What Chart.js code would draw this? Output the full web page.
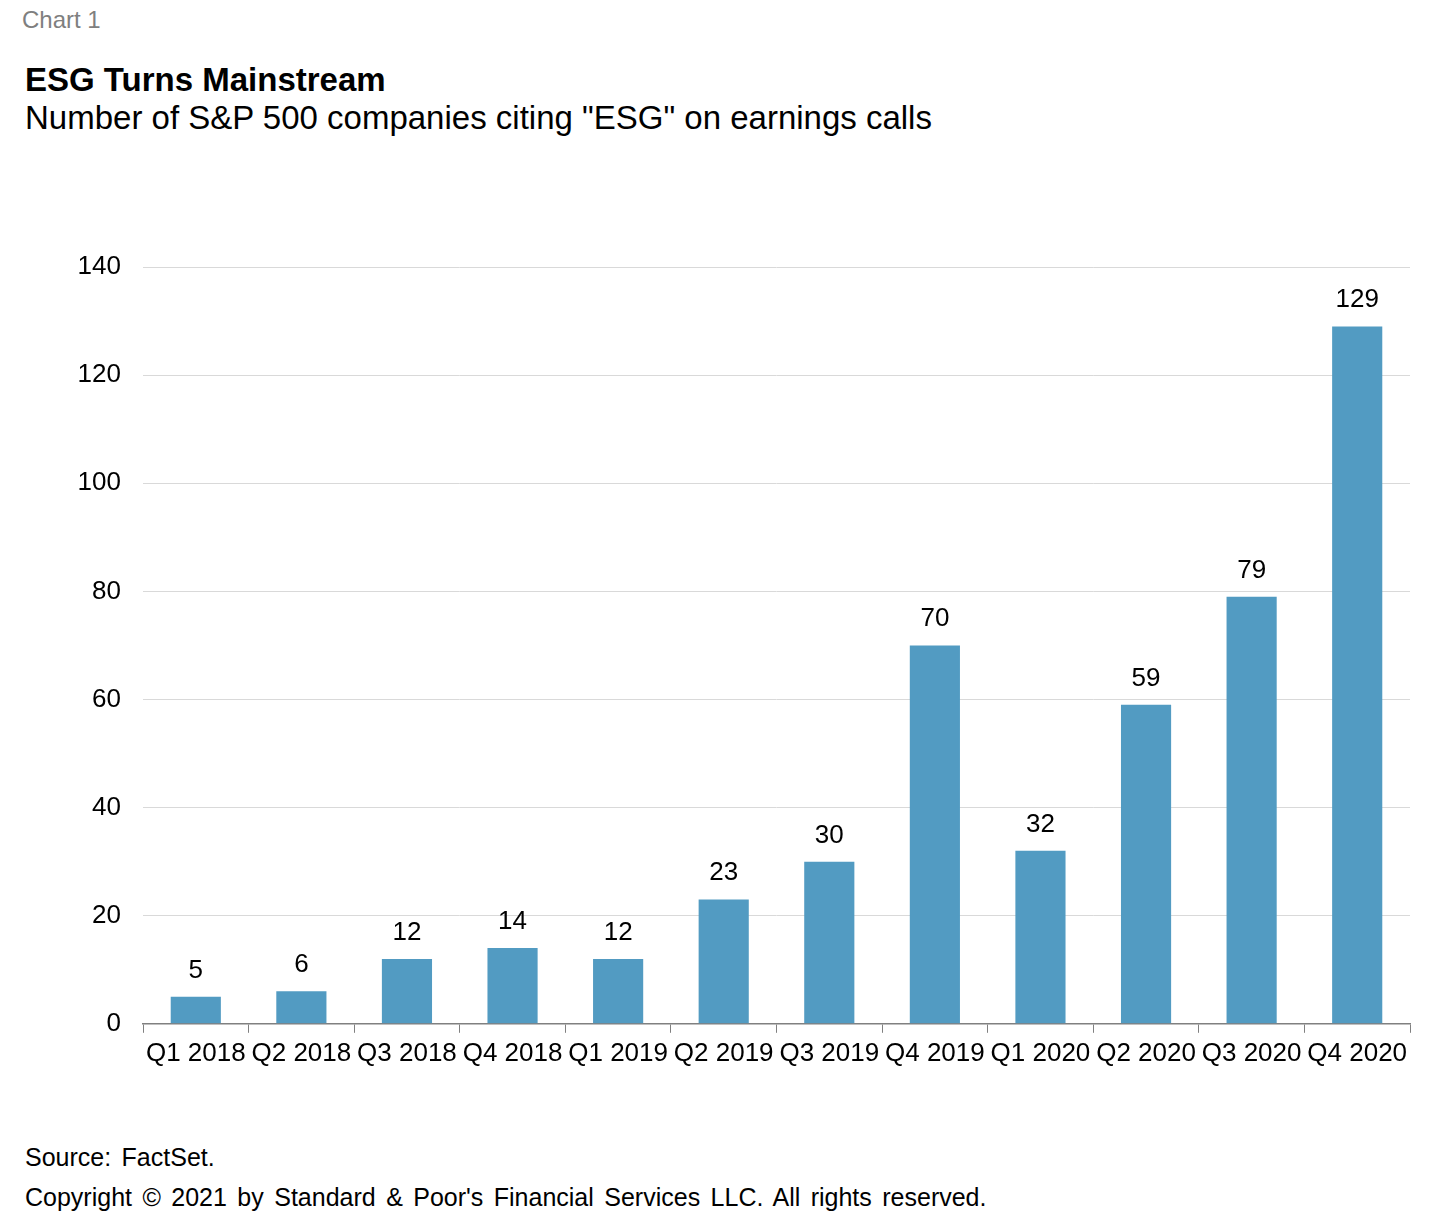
<!DOCTYPE html>
<html>
<head>
<meta charset="utf-8">
<script src="https://cdn.jsdelivr.net/npm/chart.js@4"></script>
<style>
  body { margin: 0; background: #fff; font-family: "Liberation Sans", Arial, sans-serif; }
  .page { position: relative; width: 1432px; height: 1220px; }
  .lbl { position: absolute; left: 25px; white-space: nowrap; color: #000; }
  #chartBox { position: absolute; left: 0; top: 200px; width: 1432px; height: 900px; }
</style>
</head>
<body>
<div class="page">
  <div class="lbl" style="left:22px; top:6px; font-size:24px; color:#7f7f7f;">Chart 1</div>
  <div class="lbl" style="top:61px; font-size:33px; font-weight:bold;">ESG Turns Mainstream</div>
  <div class="lbl" style="top:99px; font-size:33px;">Number of S&amp;P 500 companies citing "ESG" on earnings calls</div>
  <div id="chartBox"><canvas id="chart"></canvas></div>
  <div class="lbl" style="top:1143px; font-size:25px; word-spacing:3.5px;">Source: FactSet.</div>
  <div class="lbl" style="top:1183px; font-size:25px; word-spacing:3.5px;">Copyright © 2021 by Standard &amp; Poor's Financial Services LLC. All rights reserved.</div>
</div>
<script>
const quarters = ['Q1 2018', 'Q2 2018', 'Q3 2018', 'Q4 2018', 'Q1 2019', 'Q2 2019', 'Q3 2019', 'Q4 2019', 'Q1 2020', 'Q2 2020', 'Q3 2020', 'Q4 2020'];
const companies = [5, 6, 12, 14, 12, 23, 30, 70, 32, 59, 79, 129];
const yTicks = [0, 20, 40, 60, 80, 100, 120, 140];

const fontFamily = '"Liberation Sans", Arial, sans-serif';

// number above each bar
const valueLabels = {
    id: 'valueLabels',
    afterDatasetsDraw(chart) {
        const ctx = chart.ctx;
        const meta = chart.getDatasetMeta(0);
        ctx.save();
        ctx.font = '26px ' + fontFamily;
        ctx.fillStyle = '#000';
        ctx.textAlign = 'center';
        ctx.textBaseline = 'alphabetic';
        meta.data.forEach((bar, i) => {
            ctx.fillText(companies[i], bar.x, bar.y - 19);
        });
        ctx.restore();
    }
};

new Chart(document.getElementById('chart'), {
    type: 'bar',
    data: {
        labels: quarters,
        datasets: [{
            data: companies,
            backgroundColor: '#529bc2',
            categoryPercentage: 1,
            barPercentage: 0.475,
        }]
    },
    options: {
        responsive: true,
        maintainAspectRatio: false,
        animation: false,
        layout: { padding: { top: 67, right: 22, left: 0, bottom: 26 } },
        plugins: { legend: { display: false }, tooltip: { enabled: false } },
        scales: {
            x: {
                grid: { offset: true, drawOnChartArea: false, drawTicks: true, tickLength: 9, color: '#808080' },
                border: { color: '#808080', width: 1.5 },
                ticks: { color: '#000', font: { family: fontFamily, size: 26 }, padding: 5, maxRotation: 0, autoSkip: false }
            },
            y: {
                min: 0,
                max: 140,
                afterBuildTicks(scale) { scale.ticks = yTicks.map(v => ({ value: v })); },
                afterFit(scale) { scale.width = 143; },
                grid: { color: '#d9d9d9', drawTicks: false },
                border: { display: false },
                ticks: { color: '#000', font: { family: fontFamily, size: 26 }, padding: 22 }
            }
        }
    },
    plugins: [valueLabels]
});
</script>
</body>
</html>
